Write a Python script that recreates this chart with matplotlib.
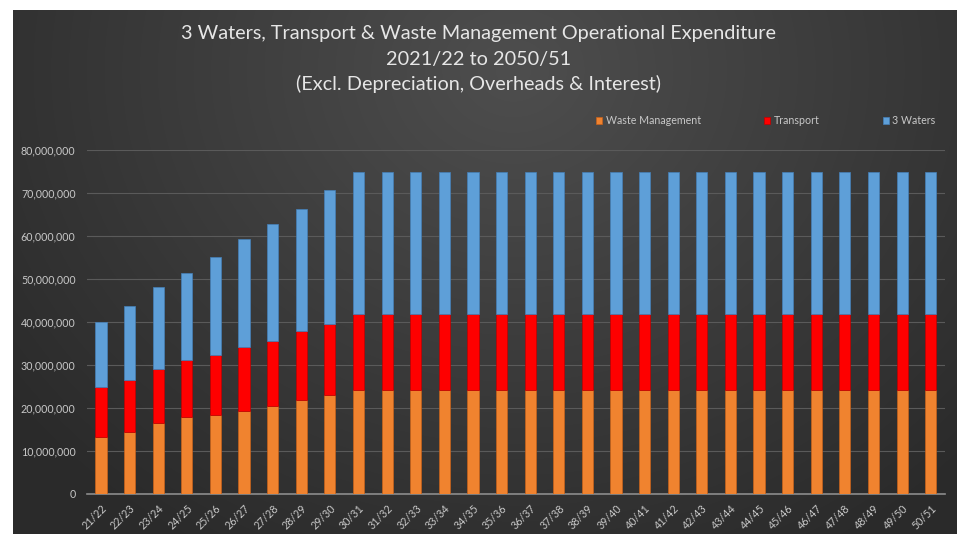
import numpy as np
import matplotlib
matplotlib.use("Agg")
import matplotlib.pyplot as plt
from matplotlib.ticker import FuncFormatter

plt.rcParams['font.family'] = ['Lato', 'DejaVu Sans']

years = ["21/22", "22/23", "23/24", "24/25", "25/26", "26/27", "27/28", "28/29", "29/30",
         "30/31", "31/32", "32/33", "33/34", "34/35", "35/36", "36/37", "37/38", "38/39",
         "39/40", "40/41", "41/42", "42/43", "43/44", "44/45", "45/46", "46/47", "47/48",
         "48/49", "49/50", "50/51"]

waste = [13.3, 14.5, 16.6, 17.9, 18.4, 19.3, 20.5, 21.8, 23.0] + [24.3] * 21
transport = [11.5, 12.1, 12.4, 13.2, 13.9, 14.9, 15.1, 16.0, 16.6] + [17.5] * 21
waters = [15.3, 17.2, 19.2, 20.4, 22.8, 25.2, 27.1, 28.5, 31.0] + [33.1] * 21

waste = np.array(waste) * 1e6
transport = np.array(transport) * 1e6
waters = np.array(waters) * 1e6

fig = plt.figure(figsize=(9.57, 5.34), dpi=100)
fig.patch.set_facecolor("white")

# background gradient panel
W, H = 957, 534
bg = fig.add_axes([13 / W, 0, 1 - 13 / W, 1 - 10 / H])
bg.set_axis_off()
yy, xx = np.mgrid[0:524, 0:944]
cx, cy = 500, 60
d = np.sqrt(((xx - cx) / 640.0) ** 2 + ((yy - cy) / 560.0) ** 2)
d = np.clip(d, 0, 1)
c0 = np.array([0x4e, 0x4e, 0x4e]) / 255.0
c1 = np.array([0x2a, 0x2a, 0x2a]) / 255.0
img = c0[None, None, :] * (1 - d[..., None]) + c1[None, None, :] * d[..., None]
bg.imshow(img, aspect="auto", extent=[0, 1, 0, 1], origin="upper")
bg.set_xlim(0, 1)
bg.set_ylim(0, 1)

ax = fig.add_axes([86.7 / W, 1 - 494 / H, (945 - 86.7) / W, (494 - 150) / H])
ax.patch.set_alpha(0)

x = np.arange(len(years))
bw = 0.39
b1 = ax.bar(x, waste, bw, color="#f0832f", edgecolor="#c8621a", linewidth=0.5,
            label="Waste Management", zorder=3)
b2 = ax.bar(x, transport, bw, bottom=waste, color="#fe0000", edgecolor="#c00000",
            linewidth=0.5, label="Transport", zorder=3)
b3 = ax.bar(x, waters, bw, bottom=waste + transport, color="#5e9fd8", edgecolor="#4580b8",
            linewidth=0.5, label="3 Waters", zorder=3)

ax.set_xlim(-0.5, len(years) - 0.5)
ax.set_ylim(0, 80e6)
ax.set_yticks(np.arange(0, 80e6 + 1, 10e6))
ax.yaxis.set_major_formatter(FuncFormatter(lambda v, p: f"{int(v):,}"))
ax.grid(axis="y", color="#5a5a5a", linewidth=0.8, zorder=0)
ax.set_axisbelow(True)
for s in ["top", "right", "left"]:
    ax.spines[s].set_visible(False)
ax.spines["bottom"].set_color("#8c8c8c")
ax.spines["bottom"].set_linewidth(1.2)
ax.tick_params(axis="both", length=0, colors="#c8c8c8", labelsize=7.7)
ax.tick_params(axis="y", pad=8)
ax.set_xticks(x)
ax.set_xticklabels(years, rotation=45, ha="right", rotation_mode="anchor")
ax.tick_params(axis="x", pad=6)

title_kw = dict(ha="center", va="center", color="#e6e6e6", fontsize=14.3)
fig.text(0.500, 1 - 33 / H, "3 Waters, Transport & Waste Management Operational Expenditure", **title_kw)
fig.text(0.500, 1 - 59 / H, "2021/22 to 2050/51", **title_kw)
fig.text(0.500, 1 - 84 / H, "(Excl. Depreciation, Overheads & Interest)", **title_kw)

leg = ax.legend(handles=[b1, b2, b3], ncol=3, loc="center right",
                bbox_to_anchor=(945 / W, 1 - 121 / H), bbox_transform=fig.transFigure,
                frameon=False, fontsize=7.7, labelcolor="#c8c8c8",
                handlelength=0.6, handleheight=0.6, handletextpad=0.3, columnspacing=5.9)

fig.savefig("out.png", dpi=100, facecolor=fig.get_facecolor())
